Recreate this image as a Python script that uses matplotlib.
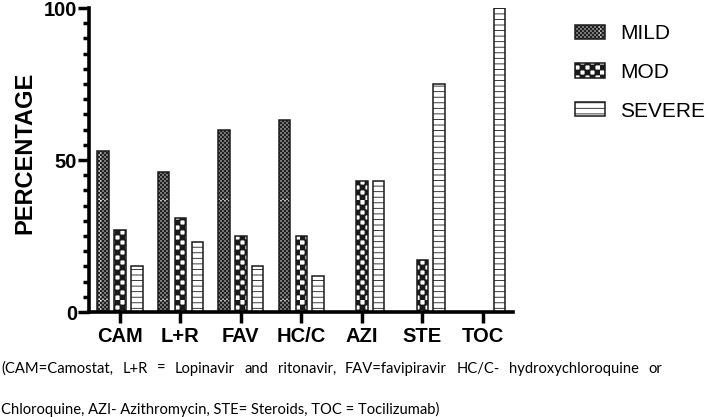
import numpy as np
import matplotlib
matplotlib.use('Agg')
import matplotlib.pyplot as plt
import matplotlib.hatch as mhatch
from matplotlib.path import Path
from matplotlib.ticker import MultipleLocator

# ---------------- data ----------------
categories = ['CAM', 'L+R', 'FAV', 'HC/C', 'AZI', 'STE', 'TOC']
series_names = ['MILD', 'MOD', 'SEVERE']
mild = [53, 46, 60, 63, 0, 0, 0]
mod = [27, 31, 25, 25, 43, 17, 0]
severe = [15, 23, 15, 12, 43, 75, 100]
y_ticks = [0, 50, 100]
y_label = 'PERCENTAGE'
caption_line1 = ("(CAM=Camostat, L+R = Lopinavir and ritonavir, "
                 "FAV=favipiravir HC/C- hydroxychloroquine or")
caption_line2 = "Chloroquine, AZI- Azithromycin, STE= Steroids, TOC = Tocilizumab)"


# ---------------- custom checkerboard hatches ----------------
class _Checker(mhatch.HatchPatternBase):
    char = 'O'
    per = 10
    inset = 0.0

    def __init__(self, hatch, density):
        n = int(hatch.count(self.char) * self.per)
        n += n % 2
        self.n = n
        self.num_vertices = (n * n // 2) * 5

    def set_vertices_and_codes(self, vertices, codes):
        n = self.n
        s = 1.0 / n
        a, b = self.inset, s - self.inset
        sq = np.array([[a, a], [b, a], [b, b], [a, b], [a, a]], float)
        cc = [Path.MOVETO, Path.LINETO, Path.LINETO, Path.LINETO, Path.CLOSEPOLY]
        k = 0
        for i in range(n):
            for j in range(n):
                if (i + j) % 2 == 0:
                    vertices[k:k + 5] = sq + [j * s, i * s]
                    codes[k:k + 5] = cc
                    k += 5


class _FineChecker(_Checker):
    char = 'o'
    inset = 0.0012


mhatch._hatch_types[:] = [t for t in mhatch._hatch_types
                          if t not in (mhatch.SmallCircles, mhatch.LargeCircles)]
mhatch._hatch_types += [_Checker, _FineChecker]

# ---------------- figure ----------------
W, H = 709, 417
plt.rcParams['font.family'] = ['Liberation Sans', 'DejaVu Sans']
plt.rcParams['hatch.linewidth'] = 0.6
plt.rcParams['hatch.color'] = 'black'

fig = plt.figure(figsize=(W / 100, H / 100), dpi=100)
ax = fig.add_axes([89 / W, 1 - 312 / H, (513 - 89) / W, (312 - 8) / H])

x = np.arange(len(categories))
width = 0.19
offsets = [-0.28, 0.0, 0.28]
hatches = ['ooooo', 'OO', '---']
handles = []
for vals, off, h in zip([mild, mod, severe], offsets, hatches):
    bars = ax.bar(x + off, vals, width, facecolor='white', edgecolor='#1a1a1a',
                  linewidth=1.1, hatch=h, zorder=2)
    handles.append(bars)

ax.set_xlim(-0.51, 6.5)
ax.set_ylim(0, 100)
ax.set_xticks(x)
ax.set_xticklabels(categories, fontsize=14.5, fontweight='bold')
ax.set_yticks(y_ticks)
ax.set_yticklabels([str(v) for v in y_ticks], fontsize=14.5, fontweight='bold')
ax.yaxis.set_minor_locator(MultipleLocator(5))
ax.tick_params(axis='y', which='major', length=8, width=2.5, pad=0.5, direction='out')
ax.tick_params(axis='y', which='minor', length=4.5, width=2.5, direction='out')
ax.tick_params(axis='x', which='major', length=8, width=2.5, pad=3, direction='out')
for s in ['top', 'right']:
    ax.spines[s].set_visible(False)
for s in ['left', 'bottom']:
    ax.spines[s].set_linewidth(2.6)
    ax.spines[s].set_zorder(3)

ax.set_ylabel(y_label, fontsize=17, fontweight='bold')
ax.yaxis.set_label_coords(-0.125, 0.523)

leg = ax.legend(handles, series_names, loc='upper left',
                bbox_to_anchor=(575 / W, 1 - 24 / H), bbox_transform=fig.transFigure,
                frameon=False, prop={'family': 'Liberation Sans', 'size': 15},
                handlelength=1.44, handleheight=0.67, handletextpad=0.72,
                labelspacing=0.95, borderpad=0, borderaxespad=0)

# ---------------- caption (justified first line) ----------------
fig.canvas.draw()
r = fig.canvas.get_renderer()
cap_family = ['Lato', 'DejaVu Sans']
t2 = fig.text(1 / W, 1 - 414 / H, caption_line2, va='baseline', ha='left',
              family=cap_family, size=12)
w2 = t2.get_window_extent(r).width
size = 12 * 437 / w2
t2.set_fontsize(size)

words = caption_line1.split()
wt = [fig.text(0, 1 - 373 / H, w, va='baseline', ha='left',
               family=cap_family, size=size) for w in words]
widths = [t.get_window_extent(r).width for t in wt]
x0, x1 = 1, 662
gap = (x1 - x0 - sum(widths)) / (len(words) - 1)
cx = x0
for t, w in zip(wt, widths):
    t.set_x(cx / W)
    cx += w + gap

fig.savefig('out.png', dpi=100)
